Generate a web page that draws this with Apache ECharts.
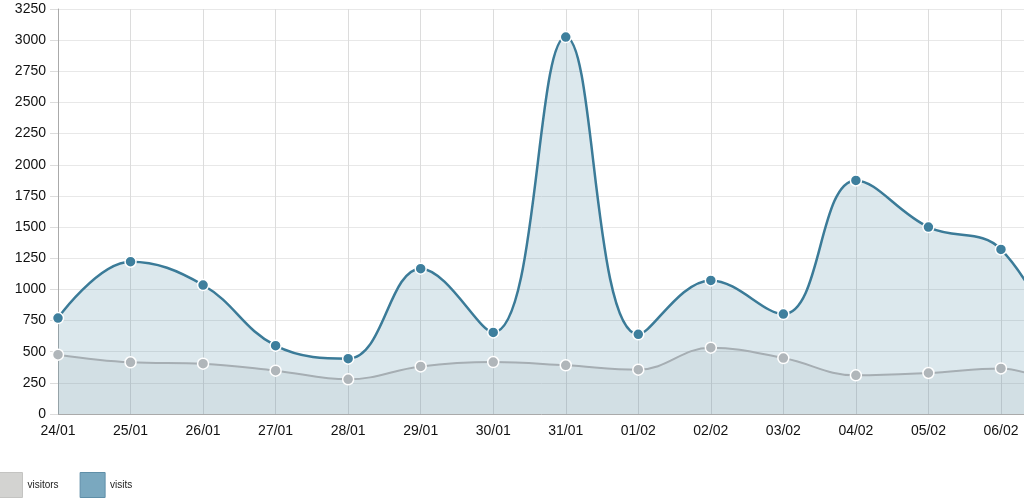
<!DOCTYPE html>
<html>
<head>
<meta charset="utf-8">
<script src="https://cdn.jsdelivr.net/npm/echarts@6/dist/echarts.min.js"></script>
<style>html,body{margin:0;padding:0;background:#fff}#c{width:1024px;height:501px}</style>
</head>
<body>
<div id="c"></div>
<script>
const categories = ['24/01','25/01','26/01','27/01','28/01','29/01','30/01','31/01','01/02','02/02','03/02','04/02','05/02','06/02','07/02'];
const visits = [770, 1222, 1035, 548, 444, 1166, 655, 3025, 639, 1072, 802, 1874, 1500, 1321, 300];
const visitors = [476, 415, 404, 348, 278, 382, 417, 391, 356, 532, 449, 310, 329, 366, 150];
const yTicks = {min: 0, max: 3250, interval: 250};

const chart = echarts.init(document.getElementById('c'));
const font = 'Liberation Sans, Arial, sans-serif';
chart.setOption({
  animation: false,
  grid: {left: 58, top: 9, bottom: 87, right: -49.5, containLabel: false, outerBoundsMode: 'none'},
  legend: {
    left: -3, bottom: 3, orient: 'horizontal', padding: 0,
    itemWidth: 25, itemHeight: 25, itemGap: 21, icon: 'rect',
    textStyle: {fontFamily: font, fontSize: 10, color: '#222'},
    data: [
      {name: 'visitors', itemStyle: {color: '#d3d3d1', borderColor: '#c4c4c2', borderWidth: 1}},
      {name: 'visits', itemStyle: {color: '#7aa8bf', borderColor: '#5f8fa8', borderWidth: 1}}
    ]
  },
  xAxis: {
    type: 'category', data: categories, boundaryGap: false,
    axisLine: {lineStyle: {color: '#aaaaaa'}},
    axisTick: {show: false},
    axisLabel: {fontFamily: font, fontSize: 14, color: '#111', margin: 10},
    splitLine: {show: true, lineStyle: {color: '#dcdcdc'}}
  },
  yAxis: {
    type: 'value', min: yTicks.min, max: yTicks.max, interval: yTicks.interval,
    axisLine: {show: true, lineStyle: {color: '#aaaaaa'}},
    axisTick: {show: true, length: 8, lineStyle: {color: '#dcdcdc'}},
    axisLabel: {fontFamily: font, fontSize: 14, color: '#111', margin: 12, formatter: v => String(v)},
    splitLine: {lineStyle: {color: '#e8e8e8'}}
  },
  series: [
    {
      name: 'visits', type: 'line', data: visits, smooth: 0.4,
      symbol: 'circle', symbolSize: 11,
      lineStyle: {color: '#3b7b98', width: 2.5},
      itemStyle: {color: '#3e7f9d', borderColor: '#fff', borderWidth: 1.5},
      areaStyle: {color: 'rgba(61,127,156,0.18)', opacity: 1},
      z: 2
    },
    {
      name: 'visitors', type: 'line', data: visitors, smooth: 0.4,
      symbol: 'circle', symbolSize: 11,
      lineStyle: {color: '#a6aeb3', width: 2},
      itemStyle: {color: '#b0b6ba', borderColor: '#fff', borderWidth: 1.5},
      areaStyle: {color: 'rgba(150,160,170,0.13)', opacity: 1},
      z: 3
    }
  ]
});
</script>
</body>
</html>
